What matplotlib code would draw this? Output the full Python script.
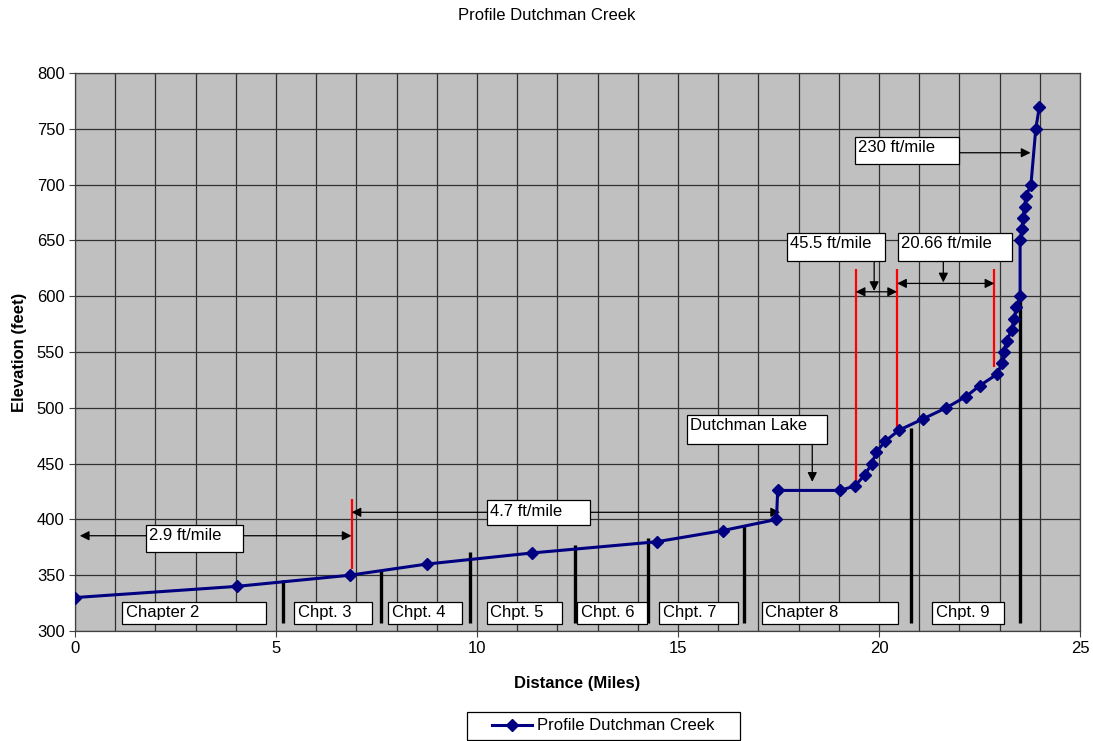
import matplotlib
matplotlib.use('Agg')

import matplotlib.pyplot as plt
from matplotlib.patches import Rectangle

plt.rcParams['font.family'] = ['Liberation Sans', 'DejaVu Sans']

# stream profile (distance in miles, elevation in feet)
distance = [0, 4.02, 6.83, 8.75, 11.38, 14.47, 16.11, 17.45, 17.48, 19.03,
            19.40, 19.65, 19.82, 19.93, 20.15, 20.50, 21.09, 21.67, 22.16, 22.51,
            22.93, 23.06, 23.10, 23.18, 23.30, 23.37, 23.41, 23.51, 23.51, 23.56,
            23.58, 23.62, 23.66, 23.78, 23.90, 23.99]
elevation = [330, 340, 350, 360, 370, 380, 390, 400, 426, 426,
             430, 440, 450, 460, 470, 480, 490, 500, 510, 520,
             530, 540, 550, 560, 570, 580, 590, 600, 650, 660,
             670, 680, 690, 700, 750, 770]

# chapter boundaries: (distance, elevation at top of marker)
chapter_breaks = [(5.18, 346), (7.60, 355), (9.83, 371), (12.45, 377),
                  (14.26, 383), (16.65, 395), (20.79, 482), (23.51, 600)]
# chapter labels with their extent along the creek
chapter_labels = [('Chapter 2', 1.18, 4.74), ('Chpt. 3', 5.46, 7.38),
                  ('Chpt. 4', 7.79, 9.62), ('Chpt. 5', 10.24, 12.12),
                  ('Chpt. 6', 12.50, 14.24), ('Chpt. 7', 14.53, 16.50),
                  ('Chapter 8', 17.08, 20.47), ('Chpt. 9', 21.33, 23.12)]

# gradient reach limits (distance, bottom, top)
reach_limits = [(6.88, 356, 418), (19.42, 434, 624), (20.45, 482, 624), (22.87, 537, 624)]

FS = 12

fig = plt.figure(figsize=(10.93, 7.41), dpi=100)
ax = fig.add_axes([0.0686, 0.1484, 0.9195, 0.753])
ax.set_facecolor('#c0c0c0')

ax.set_xlim(0, 25)
ax.set_ylim(300, 800)
ax.set_xticks(range(0, 26, 5))
ax.set_xticks(range(0, 26), minor=True)
ax.set_yticks(range(300, 801, 50))
ax.grid(True, which='both', color='#303030', lw=0.9)
ax.set_axisbelow(True)
ax.tick_params(axis='both', which='major', length=4, width=0.8, color='#404040', labelsize=FS)
ax.tick_params(axis='x', which='minor', length=0)
for s in ax.spines.values():
    s.set_color('#404040')
    s.set_linewidth(0.9)

ax.set_xlabel('Distance (Miles)', fontsize=FS, fontweight='bold', labelpad=14)
ax.set_ylabel('Elevation (feet)', fontsize=FS, fontweight='bold', labelpad=7)
fig.text(0.5, 1 - 16 / 741, 'Profile Dutchman Creek', ha='center', va='center', fontsize=FS)

# chapter divider lines
for x, top in chapter_breaks:
    ax.plot([x, x], [307, top], color='black', lw=2.4, solid_capstyle='butt', zorder=3)

# reach limits
for x, y0, y1 in reach_limits:
    ax.plot([x, x], [y0, y1], color='red', lw=1.6, solid_capstyle='butt', zorder=3)


def label_box(x0, x1, y0, y1, text, dy=-2.5):
    ax.add_patch(Rectangle((x0, y0), x1 - x0, y1 - y0, facecolor='white',
                           edgecolor='black', lw=0.9, zorder=5))
    ax.annotate(text, (x0, y1), xytext=(2.5, dy), textcoords='offset points',
                ha='left', va='top', fontsize=FS, zorder=6)


def arrow(x0, y0, x1, y1, style='<|-|>'):
    ax.annotate('', xy=(x1, y1), xytext=(x0, y0),
                arrowprops=dict(arrowstyle=style, color='black', lw=0.9,
                                shrinkA=0, shrinkB=0, mutation_scale=14),
                zorder=4)


for text, x0, x1 in chapter_labels:
    label_box(x0, x1, 306, 326, text)

# gradient annotations
arrow(0.12, 385.4, 6.88, 385.4)
label_box(1.76, 4.17, 371, 395, '2.9 ft/mile')

arrow(6.88, 406.4, 17.54, 406.4)
label_box(10.24, 12.81, 395, 417, '4.7 ft/mile')

arrow(18.34, 468, 18.34, 433.7, '-|>')
label_box(15.22, 18.70, 468, 494, 'Dutchman Lake')

arrow(19.42, 604, 20.45, 604)
arrow(19.88, 632, 19.88, 604.7, '-|>')
label_box(17.70, 20.16, 632, 657, '45.5 ft/mile')

arrow(20.45, 611.5, 22.87, 611.5)
arrow(21.60, 632, 21.60, 612.4, '-|>')
label_box(20.47, 23.30, 632, 657, '20.66 ft/mile')

arrow(22.0, 728.6, 23.77, 728.6, '-|>')
label_box(19.40, 22.0, 718.5, 743, '230 ft/mile')

ax.plot(distance, elevation, color='#000080', lw=2.2, marker='D', ms=6,
        label='Profile Dutchman Creek', zorder=7)

# legend below the axes with a wide frame
fig.patches.append(Rectangle((467 / 1093, 1 - 740 / 741), 273 / 1093, 28 / 741,
                             transform=fig.transFigure, facecolor='white',
                             edgecolor='black', lw=0.9))
fig.legend(loc='center', bbox_to_anchor=(603 / 1093, 1 - 726 / 741),
           fontsize=FS, frameon=False, handlelength=2.4, handletextpad=0.3)

fig.savefig('out.png', dpi=100)
